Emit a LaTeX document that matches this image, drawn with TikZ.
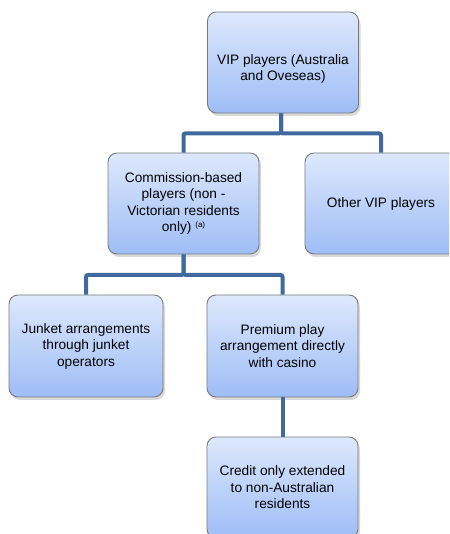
\documentclass[tikz,border=0pt]{standalone}
\usepackage{fontspec}
\setmainfont{Liberation Sans}
\usetikzlibrary{shadows}
\definecolor{boxtop}{HTML}{DDE8FC}
\definecolor{boxbot}{HTML}{9EBDF6}
\definecolor{boxline}{HTML}{7A7A7A}
\definecolor{conn}{HTML}{41699E}
\begin{document}
\begin{tikzpicture}[x=1pt,y=1pt,
  boxfont/.style={font=\fontsize{13.7}{16.5}\selectfont},
  orgbox/.style={draw=boxline, line width=0.9pt, rounded corners=9pt,
    top color=boxtop, bottom color=boxbot, align=center,
    minimum width=151pt, minimum height=101pt, inner sep=2pt, boxfont,
    drop shadow={shadow xshift=2pt, shadow yshift=-3pt, opacity=0.25, fill=black!60}},
  link/.style={draw=conn, line width=4pt, rounded corners=2pt}]
\useasboundingbox (0,0) rectangle (449,534);
\begin{scope}
\clip (0,0) rectangle (449,534);
\node[orgbox] (top) at (283,471.5) {};
\node[align=center, boxfont] (toptext) at ([yshift=-6.5pt]top.center) {VIP players (Australia\\and Oveseas)};
\node[orgbox] (comm) at (183.5,330.5) {Commission-based\\players (non -\\Victorian residents\\only) {\fontsize{8}{8}\selectfont\raisebox{4.5pt}{(a)}}};
\node[orgbox, minimum width=152pt] (other) at (381,330.5) {Other VIP players};
\node[orgbox, minimum width=154pt, minimum height=102pt] (junket) at (86,188) {Junket arrangements\\through junket\\operators};
\node[orgbox, minimum height=102pt] (prem) at (282.5,188) {Premium play\\arrangement directly\\with casino};
\node[orgbox] (credit) at (282.5,46.5) {Credit only extended\\to non-Australian\\residents};
\end{scope}
\draw[link] ([xshift=-2pt]top.south) -- ++(0,-20) -| (comm.north);
\draw[link] ([xshift=-2pt]top.south) -- ++(0,-20) -| (other.north);
\draw[link] (comm.south) -- ++(0,-20.5) -| (junket.north);
\draw[link] (comm.south) -- ++(0,-20.5) -| (prem.north);
\draw[link] (prem.south) -- (credit.north);
\end{tikzpicture}
\end{document}
